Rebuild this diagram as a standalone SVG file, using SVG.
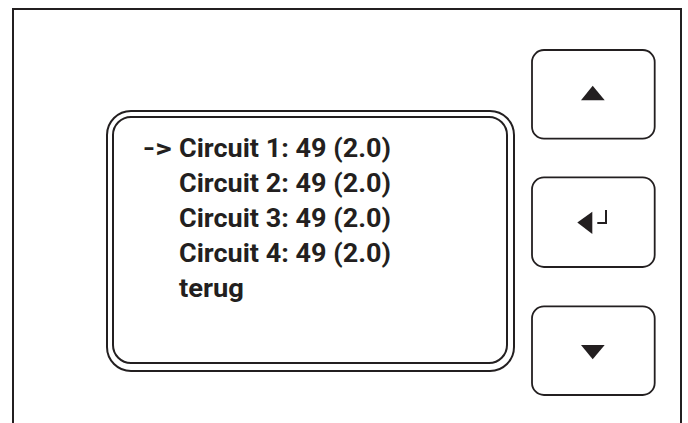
<svg xmlns="http://www.w3.org/2000/svg" width="688" height="423" viewBox="0 0 688 423">
<style>
.ln{fill:none;stroke:#231f20;stroke-width:2}
.btn{fill:#fff;stroke:#231f20;stroke-width:1.8}
.ico{fill:#231f20}
.t{font-family:Roboto,"Open Sans","Liberation Sans",sans-serif;font-weight:bold;font-size:25.5px;fill:#231f20}
</style>
<rect width="688" height="423" fill="#fff"/>
<g id="frame">
<path class="ln" d="M13,423 V9 H681 V423" stroke="#333"/>
</g>
<g id="display">
<rect class="ln" x="107" y="111" width="407" height="260" rx="24"/>
<rect class="ln" x="113" y="117" width="394" height="246" rx="18"/>
<text class="t" x="142.7" y="157" textLength="29" lengthAdjust="spacingAndGlyphs">-&gt;</text>
<text class="t" x="179" y="157" textLength="212" lengthAdjust="spacingAndGlyphs">Circuit 1: 49 (2.0)</text>
<text class="t" x="179" y="192" textLength="212" lengthAdjust="spacingAndGlyphs">Circuit 2: 49 (2.0)</text>
<text class="t" x="179" y="227" textLength="212" lengthAdjust="spacingAndGlyphs">Circuit 3: 49 (2.0)</text>
<text class="t" x="179" y="262" textLength="212" lengthAdjust="spacingAndGlyphs">Circuit 4: 49 (2.0)</text>
<text class="t" x="179" y="297" textLength="65" lengthAdjust="spacingAndGlyphs">terug</text>
</g>
<g id="btn-up">
<rect class="btn" x="532" y="50" width="122.7" height="88.7" rx="12"/>
<polygon class="ico" points="592.7,85.7 604.7,100.3 581,100.3"/>
</g>
<g id="btn-enter">
<rect class="btn" x="532" y="177.3" width="122.7" height="89.7" rx="12"/>
<polygon class="ico" points="577.3,222.5 592.3,211.7 592.3,234"/>
<path d="M597.3,223 H606 V210" fill="none" stroke="#231f20" stroke-width="2"/>
</g>
<g id="btn-down">
<rect class="btn" x="532" y="306.3" width="122.7" height="88.7" rx="12"/>
<polygon class="ico" points="581,345 604.7,345 592.7,359.3"/>
</g>
</svg>
